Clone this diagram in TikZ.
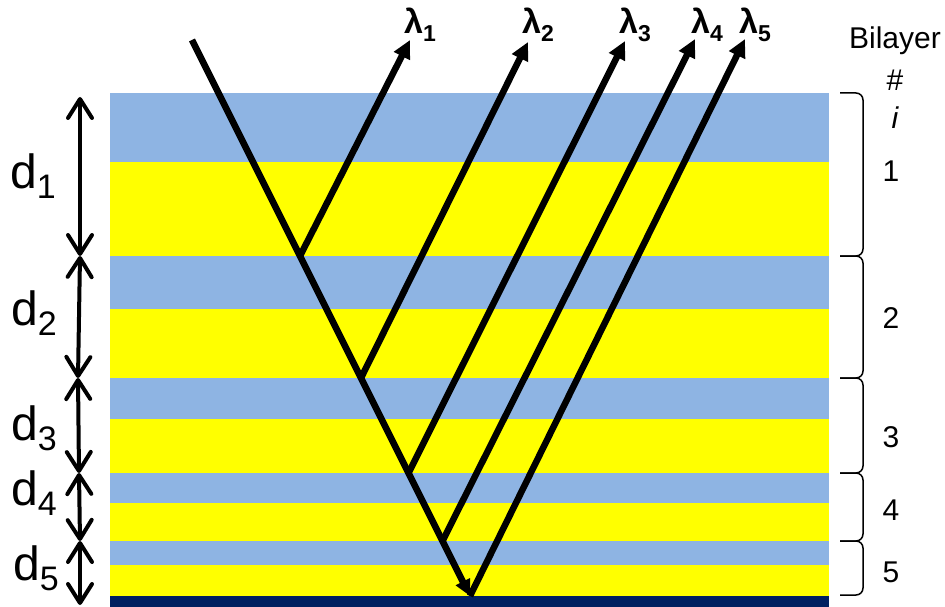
\documentclass[tikz,border=0pt]{standalone}
\usepackage{fontspec}
\setmainfont{Liberation Sans}
\usetikzlibrary{arrows.meta}
\definecolor{lblue}{RGB}{142,180,227}
\definecolor{lyellow}{RGB}{255,255,0}
\definecolor{navy}{RGB}{0,32,96}
\newcommand\dsub[1]{d\raisebox{-10pt}{\fontsize{34}{34}\selectfont #1}}
\newcommand\lsub[1]{λ\raisebox{-8pt}{\fontsize{23}{23}\selectfont\bfseries #1}}
\begin{document}
\begin{tikzpicture}[x=1pt,y=-1pt,
  ray/.style={line width=6.5pt,-{Triangle[length=18pt,width=17pt]}},
  inc/.style={line width=6.5pt,-{Triangle[length=16pt,width=15pt]}},
  dimarrow/.style={line width=4pt,line cap=round,{Straight Barb[length=19pt,width=24pt,round]}-{Straight Barb[length=19pt,width=24pt,round]}},
  bracket/.style={line width=1.5pt,rounded corners=7pt},
  dlab/.style={anchor=base west,inner sep=0pt,font=\fontsize{48}{48}\selectfont},
  llab/.style={anchor=base west,inner sep=0pt,font=\fontsize{34}{34}\selectfont\bfseries},
  num/.style={inner sep=0pt,font=\fontsize{30}{30}\selectfont}]
\useasboundingbox (0,0) rectangle (945,607);
% layers
\fill[lblue]   (110,93)  rectangle (829,162);
\fill[lyellow] (110,162) rectangle (829,256);
\fill[lblue]   (110,256) rectangle (829,309);
\fill[lyellow] (110,309) rectangle (829,378);
\fill[lblue]   (110,378) rectangle (829,419);
\fill[lyellow] (110,419) rectangle (829,473);
\fill[lblue]   (110,473) rectangle (829,503);
\fill[lyellow] (110,503) rectangle (829,541);
\fill[lblue]   (110,541) rectangle (829,565);
\fill[lyellow] (110,565) rectangle (829,596);
\fill[navy]    (110,596) rectangle (829,607);
% coordinates
\coordinate (src) at (192,40);
\coordinate (r1) at (300,256);
\coordinate (r2) at (361,378);
\coordinate (r3) at (408.5,473);
\coordinate (r4) at (442.5,541);
\coordinate (r5) at (470,596);
\coordinate (t1) at (410,40);
\coordinate (t2) at (528,42);
\coordinate (t3) at (625,41);
\coordinate (t4) at (695,39);
\coordinate (t5) at (745,39);
% rays
\draw[inc] (src) -- (r5);
\draw[ray] (r1) -- (t1);
\draw[ray] (r2) -- (t2);
\draw[ray] (r3) -- (t3);
\draw[ray] (r4) -- (t4);
\draw[ray] (r5) -- (t5);
% lambda labels
\node[llab] (l1) at (404,34) {\lsub{1}};
\node[llab] (l2) at (522,34) {\lsub{2}};
\node[llab] (l3) at (619,34) {\lsub{3}};
\node[llab] (l4) at (691,34) {\lsub{4}};
\node[llab] (l5) at (739,34) {\lsub{5}};
% thickness arrows
\coordinate (a0) at (80,97);
\coordinate (a1) at (80,256);
\coordinate (a2) at (78,378);
\coordinate (a3) at (79,473);
\coordinate (a4) at (80,541);
\coordinate (a5) at (80,605);
\draw[dimarrow] (a0) -- (a1);
\draw[dimarrow] (a1) -- (a2);
\draw[dimarrow] (a2) -- (a3);
\draw[dimarrow] (a3) -- (a4);
\draw[dimarrow] (a4) -- (a5);
\node[dlab] (d1) at (10,188) {\dsub{1}};
\node[dlab] (d2) at (11,325) {\dsub{2}};
\node[dlab] (d3) at (11,440) {\dsub{3}};
\node[dlab] (d4) at (11,505) {\dsub{4}};
\node[dlab] (d5) at (13,580) {\dsub{5}};
% brackets
\draw[bracket] (840,93)  -- (863,93)  -- (863,256) -- (840,256);
\draw[bracket] (840,256) -- (863,256) -- (863,378) -- (840,378);
\draw[bracket] (840,378) -- (863,378) -- (863,473) -- (840,473);
\draw[bracket] (840,473) -- (863,473) -- (863,541) -- (840,541);
\draw[bracket] (840,541) -- (863,541) -- (863,595) -- (840,595);
% bilayer labels
\node[num] (bl) at (895,41) {Bilayer};
\node[num] (hash) at (895,80) {\#};
\node[num] (ii) at (895,118) {\itshape i};
\node[num] (n1) at (891,171) {1};
\node[num] (n2) at (891,318) {2};
\node[num] (n3) at (891,437) {3};
\node[num] (n4) at (891,510) {4};
\node[num] (n5) at (891,572) {5};
\end{tikzpicture}
\end{document}
